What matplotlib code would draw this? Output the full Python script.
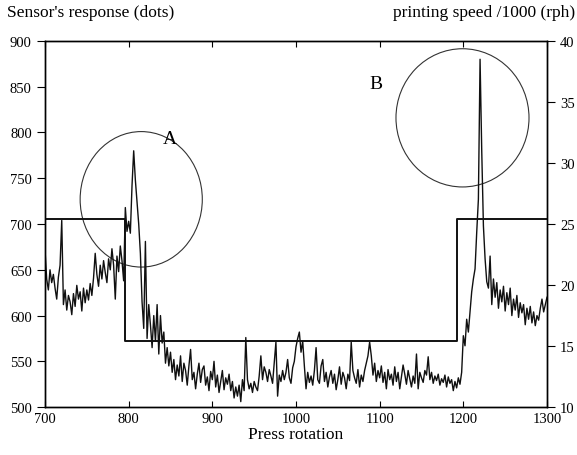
import numpy as np
import matplotlib
matplotlib.use("Agg")
import matplotlib.pyplot as plt
from matplotlib.patches import Ellipse

plt.rcParams['font.family'] = ['Liberation Serif', 'DejaVu Serif']

# sensor response, one reading every 2 press rotations from 700 to 1300
rot_start, rot_stop, rot_step = 700, 1300, 2
response = [
    672, 640, 628, 650, 636,
    645, 630, 618, 642, 655,
    704, 612, 628, 606, 622,
    615, 601, 624, 610, 633,
    618, 626, 605, 630, 614,
    628, 617, 635, 622, 641,
    668, 645, 632, 655, 640,
    660, 647, 636, 662, 650,
    673, 655, 618, 665, 648,
    676, 660, 638, 718, 692,
    703, 690, 742, 780, 748,
    724, 700, 668, 615, 586,
    681, 575, 612, 590, 565,
    600, 572, 612, 558, 600,
    570, 582, 548, 565, 545,
    560, 538, 552, 530, 546,
    534, 556, 528, 548, 540,
    524, 545, 563, 530, 538,
    520, 536, 548, 527, 541,
    545, 524, 533, 518, 539,
    530, 550, 522, 535, 516,
    528, 540, 519, 532, 525,
    536, 518, 528, 510, 522,
    512, 524, 506, 530, 518,
    576, 530, 520, 526, 516,
    528, 522, 518, 534, 556,
    530, 544, 538, 528, 541,
    534, 526, 548, 571, 512,
    535, 528, 540, 530, 538,
    552, 532, 526, 543, 550,
    566, 575, 582, 560, 572,
    545, 520, 538, 527, 534,
    524, 540, 565, 530, 526,
    545, 552, 528, 538, 522,
    533, 540, 526, 536, 519,
    530, 544, 525, 538, 532,
    520, 536, 529, 571, 540,
    532, 526, 541, 522, 535,
    528, 540, 548, 556, 571,
    556, 535, 548, 528, 540,
    532, 545, 527, 538, 520,
    541, 530, 536, 524, 544,
    528, 538, 520, 533, 546,
    536, 525, 540, 531, 522,
    534, 526, 558, 520, 538,
    532, 527, 540, 535, 555,
    530, 538, 526, 534, 529,
    536, 524, 531, 527, 535,
    522, 533, 526, 530, 518,
    528, 521, 532, 525, 538,
    578, 567, 596, 582, 604,
    626, 640, 651, 691, 727,
    880, 780, 698, 662, 637,
    630, 665, 612, 640, 620,
    636, 608, 628, 615, 632,
    605, 625, 612, 630, 600,
    618, 606, 622, 598, 614,
    603, 612, 590, 608, 596,
    610, 592, 604, 589, 600,
    595, 608, 618, 604, 612,
    620,
]
rotation = np.arange(rot_start, rot_stop + 1, rot_step)

# printing speed (x1000 rph), step changes
speed_rot = [700, 796, 1193, 1300]
speed_val = [25.4, 15.4, 25.4, 25.4]

# highlighted zones: centre (rotation, dots), width, height, label position
zones = {"A": ((815, 727), 146, 148, (849, 793)),
         "B": ((1199, 816), 159, 151, (1095, 853))}

fig = plt.figure(figsize=(5.77, 4.56), dpi=100)
ax = fig.add_axes([0.078, 0.105, 0.870, 0.803])

ax.plot(rotation, response, color="#101010", lw=1.0)
for name, (c, w, h, lab) in zones.items():
    ax.add_patch(Ellipse(c, w, h, fill=False, ec="#333333", lw=0.8))
    ax.text(lab[0], lab[1], name, fontsize=14, ha="center", va="center")

ax.set_xlim(700, 1300)
ax.set_ylim(500, 900)
ax.set_xticks(range(700, 1301, 100))
ax.set_yticks(range(500, 901, 50))
ax.tick_params(axis="x", direction="in", top=True, length=4, labelsize=10.5)
ax.tick_params(axis="y", direction="out", length=6, labelsize=10.5)
ax.set_xlabel("Press rotation", fontsize=12.5, labelpad=1)

ax2 = ax.twinx()
ax2.step(speed_rot, speed_val, where="post", color="#111111", lw=1.4)
ax2.set_ylim(10, 40)
ax2.set_yticks(range(10, 41, 5))
ax2.tick_params(axis="y", direction="out", length=6, labelsize=10.5)

for a in (ax, ax2):
    for s in a.spines.values():
        s.set_linewidth(1.0)

fig.text(0.012, 0.972, "Sensor's response (dots)", fontsize=12.5, ha="left", va="center")
fig.text(0.996, 0.972, "printing speed /1000 (rph)", fontsize=12.5, ha="right", va="center")

fig.savefig("out.png", dpi=100)
